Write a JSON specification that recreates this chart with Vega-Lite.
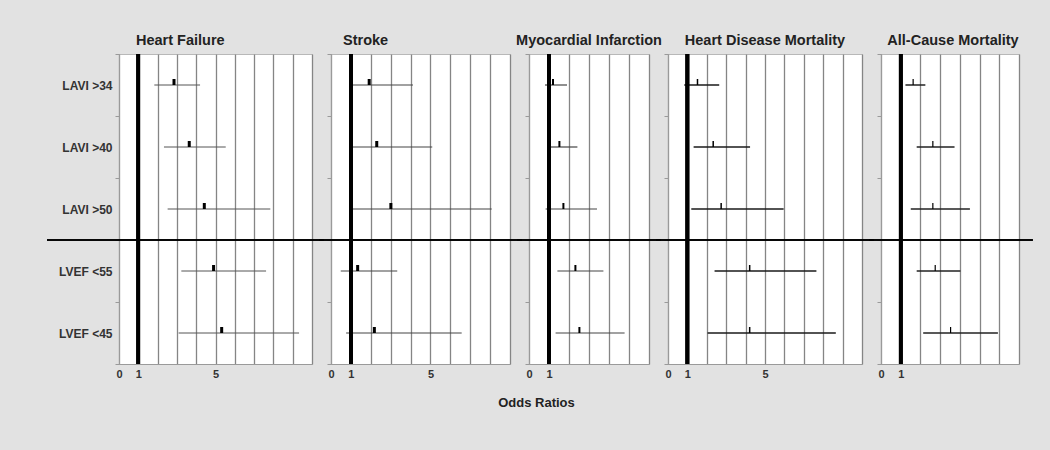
{
  "$schema": "https://vega.github.io/schema/vega-lite/v6.json",
  "autosize": {"type": "pad"},
  "padding": {"left": 45, "top": 32, "right": 17, "bottom": 40},
  "background": "#e2e2e2",
  "spacing": 19,
  "bounds": "flush",
  "config": {
    "font": "Liberation Sans",
    "view": {"fill": "white", "stroke": "#b8b8b8"},
    "title": {"fontSize": 14.5, "fontWeight": "bold", "color": "#222222", "offset": 4, "frame": "group"},
    "axisX": {"grid": true, "gridColor": "#858585", "gridWidth": 1.3, "ticks": false, "domainColor": "#9a9a9a", "labelFontWeight": "bold", "labelFontSize": 11, "labelColor": "#333333", "labelPadding": 4, "labelFlush": false, "labelOverlap": false},
    "axisY": {"tickBand": "extent", "ticks": true, "tickSize": 4, "tickColor": "#9a9a9a", "domainColor": "#9a9a9a", "labelFontWeight": "bold", "labelFontSize": 12, "labelColor": "#333333", "labelPadding": 3, "grid": false, "title": null},
    "tick": {"opacity": 1}
  },
  "datasets": {
    "fp": [
      {"outcome": "Heart Failure", "row": "LAVI >34", "or": 2.85, "lo": 1.83, "hi": 4.20},
      {"outcome": "Heart Failure", "row": "LAVI >40", "or": 3.64, "lo": 2.33, "hi": 5.53},
      {"outcome": "Heart Failure", "row": "LAVI >50", "or": 4.42, "lo": 2.52, "hi": 7.84},
      {"outcome": "Heart Failure", "row": "LVEF <55", "or": 4.90, "lo": 3.23, "hi": 7.62},
      {"outcome": "Heart Failure", "row": "LVEF <45", "or": 5.32, "lo": 3.09, "hi": 9.33},
      {"outcome": "Stroke", "row": "LAVI >34", "or": 1.92, "lo": 0.92, "hi": 4.12},
      {"outcome": "Stroke", "row": "LAVI >40", "or": 2.30, "lo": 1.06, "hi": 5.09},
      {"outcome": "Stroke", "row": "LAVI >50", "or": 3.01, "lo": 1.06, "hi": 8.08},
      {"outcome": "Stroke", "row": "LVEF <55", "or": 1.34, "lo": 0.49, "hi": 3.33},
      {"outcome": "Stroke", "row": "LVEF <45", "or": 2.18, "lo": 0.76, "hi": 6.57},
      {"outcome": "Myocardial Infarction", "row": "LAVI >34", "or": 1.20, "lo": 0.80, "hi": 1.90},
      {"outcome": "Myocardial Infarction", "row": "LAVI >40", "or": 1.52, "lo": 1.02, "hi": 2.42},
      {"outcome": "Myocardial Infarction", "row": "LAVI >50", "or": 1.72, "lo": 0.83, "hi": 3.40},
      {"outcome": "Myocardial Infarction", "row": "LVEF <55", "or": 2.32, "lo": 1.42, "hi": 3.72},
      {"outcome": "Myocardial Infarction", "row": "LVEF <45", "or": 2.52, "lo": 1.33, "hi": 4.78},
      {"outcome": "Heart Disease Mortality", "row": "LAVI >34", "or": 1.52, "lo": 0.84, "hi": 2.64},
      {"outcome": "Heart Disease Mortality", "row": "LAVI >40", "or": 2.33, "lo": 1.32, "hi": 4.23},
      {"outcome": "Heart Disease Mortality", "row": "LAVI >50", "or": 2.74, "lo": 1.20, "hi": 5.96},
      {"outcome": "Heart Disease Mortality", "row": "LVEF <55", "or": 4.21, "lo": 2.40, "hi": 7.65},
      {"outcome": "Heart Disease Mortality", "row": "LVEF <45", "or": 4.21, "lo": 2.04, "hi": 8.65},
      {"outcome": "All-Cause Mortality", "row": "LAVI >34", "or": 1.63, "lo": 1.24, "hi": 2.25},
      {"outcome": "All-Cause Mortality", "row": "LAVI >40", "or": 2.63, "lo": 1.81, "hi": 3.73},
      {"outcome": "All-Cause Mortality", "row": "LAVI >50", "or": 2.63, "lo": 1.51, "hi": 4.51},
      {"outcome": "All-Cause Mortality", "row": "LVEF <55", "or": 2.75, "lo": 1.81, "hi": 4.03},
      {"outcome": "All-Cause Mortality", "row": "LVEF <45", "or": 3.53, "lo": 2.14, "hi": 5.93}
    ]
  },
  "hconcat": [
    {
      "width": 193, "height": 310,
      "title": {"text": "Heart Failure", "anchor": "start", "dx": 17, "offset": 0},
      "data": {"name": "fp"},
      "transform": [{"filter": "datum.outcome == 'Heart Failure'"}],
      "layer": [
        {"mark": {"type": "rule", "color": "#555555", "strokeWidth": 1},
         "encoding": {
           "x": {"field": "lo", "type": "quantitative", "scale": {"domain": [0, 10], "nice": false, "zero": false}, "axis": {"values": [0,1,2,3,4,5,6,7,8,9,10], "labelExpr": "datum.value <= 1 || datum.value == 5 ? datum.label : ''", "title": null}},
           "x2": {"field": "hi"},
           "y": {"field": "row", "type": "nominal", "sort": ["LAVI >34", "LAVI >40", "LAVI >50", "LVEF <55", "LVEF <45"], "scale": {"paddingInner": 0, "paddingOuter": 0}, "axis": {"labels": true}}
         }},
        {"mark": {"type": "rule", "color": "black", "strokeWidth": 3.5}, "encoding": {"x": {"datum": 1, "type": "quantitative", "axis": {"values": [0,1,2,3,4,5,6,7,8,9,10], "labelExpr": "datum.value <= 1 || datum.value == 5 ? datum.label : ''", "title": null}}}},
        {"mark": {"type": "tick", "orient": "vertical", "color": "black", "size": 6, "thickness": 3, "yOffset": -3},
         "encoding": {"x": {"field": "or", "type": "quantitative", "axis": {"values": [0,1,2,3,4,5,6,7,8,9,10], "labelExpr": "datum.value <= 1 || datum.value == 5 ? datum.label : ''", "title": null}}, "y": {"field": "row", "type": "nominal", "sort": ["LAVI >34", "LAVI >40", "LAVI >50", "LVEF <55", "LVEF <45"]}}},
        {"mark": {"type": "rule", "color": "black", "strokeWidth": 1.2, "clip": false},
         "encoding": {"x": {"datum": -3.73, "type": "quantitative", "axis": {"values": [0,1,2,3,4,5,6,7,8,9,10], "labelExpr": "datum.value <= 1 || datum.value == 5 ? datum.label : ''", "title": null}}, "x2": {"datum": 10.6}, "y": {"datum": "LVEF <55", "type": "nominal", "bandPosition": 0}}}
      ]
    },
    {
      "width": 179, "height": 310,
      "title": {"text": "Stroke", "anchor": "start", "dx": 12},
      "data": {"name": "fp"},
      "transform": [{"filter": "datum.outcome == 'Stroke'"}],
      "layer": [
        {"mark": {"type": "rule", "color": "#444444", "strokeWidth": 1.2},
         "encoding": {
           "x": {"field": "lo", "type": "quantitative", "scale": {"domain": [0, 9], "nice": false, "zero": false}, "axis": {"values": [0,1,2,3,4,5,6,7,8,9], "labelExpr": "datum.value <= 1 || datum.value == 5 ? datum.label : ''", "title": null}},
           "x2": {"field": "hi"},
           "y": {"field": "row", "type": "nominal", "sort": ["LAVI >34", "LAVI >40", "LAVI >50", "LVEF <55", "LVEF <45"], "scale": {"paddingInner": 0, "paddingOuter": 0}, "axis": {"labels": false}}
         }},
        {"mark": {"type": "rule", "color": "black", "strokeWidth": 3.5}, "encoding": {"x": {"datum": 1, "type": "quantitative", "axis": {"values": [0,1,2,3,4,5,6,7,8,9], "labelExpr": "datum.value <= 1 || datum.value == 5 ? datum.label : ''", "title": null}}}},
        {"mark": {"type": "tick", "orient": "vertical", "color": "black", "size": 6, "thickness": 3, "yOffset": -3},
         "encoding": {"x": {"field": "or", "type": "quantitative", "axis": {"values": [0,1,2,3,4,5,6,7,8,9], "labelExpr": "datum.value <= 1 || datum.value == 5 ? datum.label : ''", "title": null}}, "y": {"field": "row", "type": "nominal", "sort": ["LAVI >34", "LAVI >40", "LAVI >50", "LVEF <55", "LVEF <45"]}}},
        {"mark": {"type": "rule", "color": "black", "strokeWidth": 1.2, "clip": false},
         "encoding": {"x": {"datum": -0.6, "type": "quantitative", "axis": {"values": [0,1,2,3,4,5,6,7,8,9], "labelExpr": "datum.value <= 1 || datum.value == 5 ? datum.label : ''", "title": null}}, "x2": {"datum": 9.6}, "y": {"datum": "LVEF <55", "type": "nominal", "bandPosition": 0}}}
      ]
    },
    {
      "width": 120, "height": 310,
      "title": {"text": "Myocardial Infarction", "anchor": "middle"},
      "data": {"name": "fp"},
      "transform": [{"filter": "datum.outcome == 'Myocardial Infarction'"}],
      "layer": [
        {"mark": {"type": "rule", "color": "#444444", "strokeWidth": 1.2},
         "encoding": {
           "x": {"field": "lo", "type": "quantitative", "scale": {"domain": [0, 6], "nice": false, "zero": false}, "axis": {"values": [0,1,2,3,4,5,6], "labelExpr": "datum.value <= 1 ? datum.label : ''", "title": "Odds Ratios", "titleX": 7, "titleY": 38, "titleBaseline": "middle", "titleAlign": "center", "titleFontSize": 13, "titleFontWeight": "bold", "titleColor": "#222222"}},
           "x2": {"field": "hi"},
           "y": {"field": "row", "type": "nominal", "sort": ["LAVI >34", "LAVI >40", "LAVI >50", "LVEF <55", "LVEF <45"], "scale": {"paddingInner": 0, "paddingOuter": 0}, "axis": {"labels": false}}
         }},
        {"mark": {"type": "rule", "color": "black", "strokeWidth": 3.5}, "encoding": {"x": {"datum": 1, "type": "quantitative", "axis": {"values": [0,1,2,3,4,5,6], "labelExpr": "datum.value <= 1 ? datum.label : ''", "title": "Odds Ratios", "titleX": 7, "titleY": 38, "titleBaseline": "middle", "titleAlign": "center", "titleFontSize": 13, "titleFontWeight": "bold", "titleColor": "#222222"}}}},
        {"mark": {"type": "tick", "orient": "vertical", "color": "black", "size": 6, "thickness": 2, "yOffset": -3},
         "encoding": {"x": {"field": "or", "type": "quantitative", "axis": {"values": [0,1,2,3,4,5,6], "labelExpr": "datum.value <= 1 ? datum.label : ''", "title": "Odds Ratios", "titleX": 7, "titleY": 38, "titleBaseline": "middle", "titleAlign": "center", "titleFontSize": 13, "titleFontWeight": "bold", "titleColor": "#222222"}}, "y": {"field": "row", "type": "nominal", "sort": ["LAVI >34", "LAVI >40", "LAVI >50", "LVEF <55", "LVEF <45"]}}},
        {"mark": {"type": "rule", "color": "black", "strokeWidth": 1.2, "clip": false},
         "encoding": {"x": {"datum": -0.6, "type": "quantitative", "axis": {"values": [0,1,2,3,4,5,6], "labelExpr": "datum.value <= 1 ? datum.label : ''", "title": "Odds Ratios", "titleX": 7, "titleY": 38, "titleBaseline": "middle", "titleAlign": "center", "titleFontSize": 13, "titleFontWeight": "bold", "titleColor": "#222222"}}, "x2": {"datum": 6.6}, "y": {"datum": "LVEF <55", "type": "nominal", "bandPosition": 0}}}
      ]
    },
    {
      "width": 194, "height": 310,
      "title": {"text": "Heart Disease Mortality", "anchor": "middle"},
      "data": {"name": "fp"},
      "transform": [{"filter": "datum.outcome == 'Heart Disease Mortality'"}],
      "layer": [
        {"mark": {"type": "rule", "color": "#1a1a1a", "strokeWidth": 1.7},
         "encoding": {
           "x": {"field": "lo", "type": "quantitative", "scale": {"domain": [0, 10], "nice": false, "zero": false}, "axis": {"values": [0,1,2,3,4,5,6,7,8,9,10], "labelExpr": "datum.value <= 1 || datum.value == 5 ? datum.label : ''", "title": null}},
           "x2": {"field": "hi"},
           "y": {"field": "row", "type": "nominal", "sort": ["LAVI >34", "LAVI >40", "LAVI >50", "LVEF <55", "LVEF <45"], "scale": {"paddingInner": 0, "paddingOuter": 0}, "axis": {"labels": false}}
         }},
        {"mark": {"type": "rule", "color": "black", "strokeWidth": 3.5}, "encoding": {"x": {"datum": 1, "type": "quantitative", "axis": {"values": [0,1,2,3,4,5,6,7,8,9,10], "labelExpr": "datum.value <= 1 || datum.value == 5 ? datum.label : ''", "title": null}}}},
        {"mark": {"type": "tick", "orient": "vertical", "color": "black", "size": 6, "thickness": 1.5, "yOffset": -3},
         "encoding": {"x": {"field": "or", "type": "quantitative", "axis": {"values": [0,1,2,3,4,5,6,7,8,9,10], "labelExpr": "datum.value <= 1 || datum.value == 5 ? datum.label : ''", "title": null}}, "y": {"field": "row", "type": "nominal", "sort": ["LAVI >34", "LAVI >40", "LAVI >50", "LVEF <55", "LVEF <45"]}}},
        {"mark": {"type": "rule", "color": "black", "strokeWidth": 1.2, "clip": false},
         "encoding": {"x": {"datum": -0.6, "type": "quantitative", "axis": {"values": [0,1,2,3,4,5,6,7,8,9,10], "labelExpr": "datum.value <= 1 || datum.value == 5 ? datum.label : ''", "title": null}}, "x2": {"datum": 10.6}, "y": {"datum": "LVEF <55", "type": "nominal", "bandPosition": 0}}}
      ]
    },
    {
      "width": 138, "height": 310,
      "title": {"text": "All-Cause Mortality", "anchor": "middle", "dx": 3},
      "data": {"name": "fp"},
      "transform": [{"filter": "datum.outcome == 'All-Cause Mortality'"}],
      "layer": [
        {"mark": {"type": "rule", "color": "#222222", "strokeWidth": 1.5},
         "encoding": {
           "x": {"field": "lo", "type": "quantitative", "scale": {"domain": [0, 7], "nice": false, "zero": false}, "axis": {"values": [0,1,2,3,4,5,6,7], "labelExpr": "datum.value <= 1 ? datum.label : ''", "title": null}},
           "x2": {"field": "hi"},
           "y": {"field": "row", "type": "nominal", "sort": ["LAVI >34", "LAVI >40", "LAVI >50", "LVEF <55", "LVEF <45"], "scale": {"paddingInner": 0, "paddingOuter": 0}, "axis": {"labels": false}}
         }},
        {"mark": {"type": "rule", "color": "black", "strokeWidth": 3.5}, "encoding": {"x": {"datum": 1, "type": "quantitative", "axis": {"values": [0,1,2,3,4,5,6,7], "labelExpr": "datum.value <= 1 ? datum.label : ''", "title": null}}}},
        {"mark": {"type": "tick", "orient": "vertical", "color": "black", "size": 6, "thickness": 1.2, "yOffset": -3},
         "encoding": {"x": {"field": "or", "type": "quantitative", "axis": {"values": [0,1,2,3,4,5,6,7], "labelExpr": "datum.value <= 1 ? datum.label : ''", "title": null}}, "y": {"field": "row", "type": "nominal", "sort": ["LAVI >34", "LAVI >40", "LAVI >50", "LVEF <55", "LVEF <45"]}}},
        {"mark": {"type": "rule", "color": "black", "strokeWidth": 1.2, "clip": false},
         "encoding": {"x": {"datum": -0.6, "type": "quantitative", "axis": {"values": [0,1,2,3,4,5,6,7], "labelExpr": "datum.value <= 1 ? datum.label : ''", "title": null}}, "x2": {"datum": 7.7}, "y": {"datum": "LVEF <55", "type": "nominal", "bandPosition": 0}}}
      ]
    }
  ]
}
